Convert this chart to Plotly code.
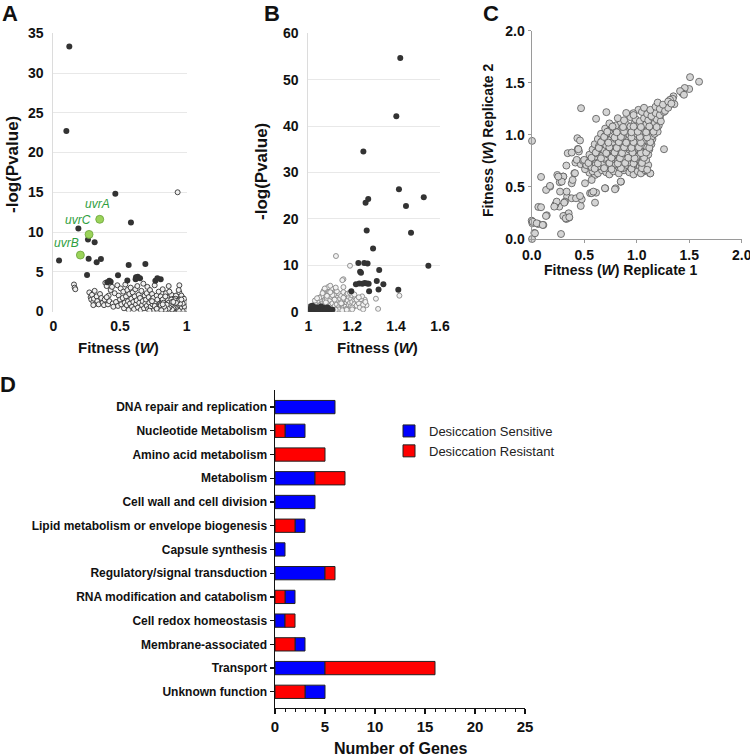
import plotly.graph_objects as go

W, H = 750, 756
FONT = "Arial, Liberation Sans, sans-serif"

# ---------------- Panel A data ----------------
a_sig = [(0.12,33.35),(0.098,22.7),(0.465,14.8),(0.582,11.2),(0.188,10.45),(0.26,9.07),(0.31,8.7),
         (0.043,6.43),(0.265,6.63),(0.357,6.6),(0.325,6.2),(0.565,5.84),(0.69,5.97),(0.253,4.58),
         (0.485,4.55),(0.42,3.87),(0.43,3.75),(0.405,3.67),(0.555,3.9),(0.62,4.3),(0.633,4.37),
         (0.65,4.17),(0.617,4.05),(0.765,3.87),(0.805,4.05),(0.78,4.17)]
a_uvr_names = ["uvrA", "uvrC", "uvrB"]
a_uvr_x = [0.348, 0.268, 0.203]
a_uvr_y = [11.6, 9.7, 7.1]
a_ns = [(0.932,15.0),(0.155,3.4),(0.16,3.0),(0.165,2.8),
 (0.27,2.4),(0.28,1.8),(0.285,1.5),(0.29,2.1),(0.30,1.2),(0.305,1.6),(0.31,2.6),(0.32,1.0),(0.325,1.9),
 (0.33,1.3),(0.34,0.9),(0.35,2.2),(0.36,1.7),(0.30,0.8),
 (0.37,1.1),(0.38,0.8),(0.385,1.5),(0.39,3.6),(0.40,3.2),(0.41,0.9),(0.415,2.0),(0.42,1.3),(0.43,2.7),
 (0.44,3.1),(0.445,1.0),(0.45,0.6),(0.40,1.8),
 (0.46,2.3),(0.47,1.2),(0.48,3.3),(0.485,0.7),(0.49,2.0),(0.50,1.5),(0.505,2.9),(0.51,0.9),(0.52,1.7),
 (0.525,2.5),(0.53,0.4),(0.535,1.1),(0.54,3.4),(0.545,1.9),(0.55,0.8),(0.555,2.7),(0.56,1.3),(0.565,0.2),
 (0.57,2.2),(0.575,1.0),
 (0.58,3.0),(0.585,1.6),(0.59,0.6),(0.595,2.4),(0.60,1.2),(0.605,0.3),(0.61,1.9),(0.615,2.8),(0.62,0.9),
 (0.625,1.4),(0.63,3.2),(0.635,0.5),(0.64,2.1),(0.645,1.1),(0.65,1.7),(0.655,0.2),(0.66,2.6),(0.665,0.8),
 (0.67,1.3),(0.675,3.5),(0.68,0.4),(0.685,2.0),(0.69,1.0),(0.695,1.5),(0.70,0.7),(0.70,2.3),
 (0.705,3.1),(0.71,0.3),(0.715,1.8),(0.72,1.1),(0.725,2.7),(0.73,0.6),(0.735,1.4),(0.74,2.2),(0.745,0.9),
 (0.75,1.7),(0.755,0.2),(0.76,3.3),(0.765,1.2),(0.77,0.5),(0.775,2.0),(0.78,1.5),(0.785,0.8),(0.79,2.5),
 (0.795,0.3),(0.80,1.0),(0.72,0.1),(0.76,0.7),(0.74,1.3),(0.78,0.1),
 (0.805,1.9),(0.81,0.5),(0.815,1.3),(0.82,2.8),(0.825,0.7),(0.83,1.6),(0.835,0.2),(0.84,1.1),(0.845,2.3),
 (0.85,0.4),(0.855,1.8),(0.86,0.9),(0.865,3.2),(0.87,0.3),(0.875,1.4),(0.88,0.6),(0.885,2.1),(0.89,1.0),
 (0.895,0.1),(0.90,1.6),(0.81,1.0),(0.82,0.3),(0.83,0.9),(0.84,0.5),(0.85,1.3),(0.86,0.2),(0.87,0.8),
 (0.88,1.2),(0.89,0.4),(0.90,0.7),(0.82,1.5),(0.84,1.9),(0.86,1.4),(0.88,0.2),(0.87,2.5),
 (0.905,0.3),(0.91,1.2),(0.915,0.6),(0.92,2.0),(0.925,0.2),(0.93,0.9),(0.935,1.5),(0.94,0.4),(0.945,3.3),
 (0.95,0.7),(0.955,1.1),(0.96,0.2),(0.965,1.8),(0.97,0.5),(0.975,0.9),(0.98,0.3),(0.985,1.3),(0.99,0.6),
 (0.995,0.1),(1.0,0.4),(0.91,0.1),(0.92,0.8),(0.93,0.4),(0.94,1.0),(0.95,0.3),(0.96,0.6),(0.97,1.4),
 (0.98,0.8),(0.99,0.2),(1.0,0.9),(0.915,1.6),(0.935,0.7),(0.955,0.5),(0.975,0.1),(0.995,0.7),(0.925,1.3),
 (0.945,2.4),(0.965,0.9),(0.985,0.5),(1.0,0.2),(0.96,2.0),(0.94,2.7),(0.98,1.1),(0.99,1.0),(1.0,0.6),
 (0.97,0.3),(0.95,1.5),
 (0.86,0.55),(0.87,0.15),(0.875,0.45),(0.88,0.95),(0.885,0.3),(0.89,0.65),(0.895,0.85),(0.90,0.15),
 (0.905,0.55),(0.91,0.85),(0.915,0.35),(0.92,0.05),(0.925,0.6),(0.93,0.15),(0.935,0.45),(0.94,0.75),
 (0.945,0.25),(0.95,0.05),(0.955,0.85),(0.96,0.4),(0.965,0.15),(0.97,0.7),(0.975,0.45),(0.98,0.05),
 (0.985,0.25),(0.99,0.45),(0.995,0.35),(1.0,0.05),(0.965,0.55),(0.945,0.55),(0.925,0.9),(0.905,1.0),
 (0.985,0.75),(0.995,0.55),(0.975,1.2),(0.955,1.3),(0.935,1.1),(0.915,0.25),(0.895,0.45),(0.875,0.75),
 (0.855,0.65),(0.835,0.45),(0.815,0.25),(0.795,0.6),(0.775,0.35),(0.845,0.05),(0.865,1.1),(0.885,1.5),
 (0.825,1.1),(0.805,0.8),
 (0.905,0.7),(0.915,0.95),(0.925,0.35),(0.935,0.25),(0.945,0.85),(0.955,0.2),(0.965,0.35),(0.975,0.6),
 (0.985,0.1),(0.995,0.25),(1.0,0.75),(0.99,0.85),(0.98,0.6),(0.97,0.05),(0.96,0.95),(0.95,0.45),
 (0.94,0.1),(0.93,0.65),(0.92,0.45),(0.91,0.5),(0.9,0.4),(0.89,0.25),(0.88,0.8),(0.87,0.5),(0.86,0.35),
 (0.85,0.85),(0.84,0.25),(0.83,0.6),(0.82,0.9),(0.81,0.15),(0.99,1.2),(0.97,1.0),(0.95,1.0),(0.93,1.3),
 (0.91,1.4),(0.89,1.2),(0.98,1.6),(0.96,1.5),(0.92,1.1),(0.90,1.2)]

# ---------------- Panel B data ----------------
b_sig = [(1.419,54.7),(1.401,42.1),(1.251,34.5),(1.413,26.4),(1.273,24.3),(1.261,23.5),(1.526,24.65),
 (1.445,22.8),(1.266,17.5),(1.468,17.0),(1.295,13.6),(1.547,9.9),(1.228,10.5),(1.255,10.5),(1.27,10.4),
 (1.236,8.6),(1.24,8.4),(1.323,9.0),(1.217,5.9),(1.232,6.1),(1.246,6.0),(1.257,6.2),(1.268,6.1),(1.275,6.0),
 (1.312,6.6),(1.342,5.9),(1.196,4.4),(1.32,4.8),(1.277,4.4),(1.41,4.75),
 (1.0,0.2),(1.005,0.5),(1.01,0.3),(1.012,0.8),(1.015,0.1),(1.02,0.6),(1.022,0.4),(1.025,1.0),(1.03,0.2),
 (1.032,0.7),(1.035,0.4),(1.04,0.1),(1.042,0.9),(1.045,0.5),(1.05,0.3),(1.052,0.7),(1.055,0.2),(1.06,0.5),
 (1.062,0.9),(1.065,0.3),(1.07,0.6),(1.072,0.15),(1.075,0.8),(1.08,0.4),(1.085,0.2),(1.09,0.6),(1.095,0.3),
 (1.1,0.5),(1.008,1.1),(1.018,1.3),(1.028,0.15),(1.038,0.65),(1.048,0.05),(1.058,1.1),(1.068,0.45),
 (1.078,0.25),(1.088,0.9),(1.105,0.2),(1.11,0.4)]
b_ns = [(1.126,12.0),(1.19,9.9),(1.415,3.45),(1.308,2.8),(1.257,2.6),(1.265,1.4),(1.318,0.6),(1.16,7.0),(1.16,5.3),
 (1.0,0.6),(1.01,1.0),(1.015,0.4),(1.02,1.3),(1.025,0.8),(1.03,1.6),(1.035,0.5),(1.04,1.9),(1.045,1.2),
 (1.05,2.2),(1.05,0.9),(1.055,1.5),(1.06,2.6),(1.06,0.7),(1.065,1.8),(1.07,3.0),(1.07,1.1),(1.075,2.3),
 (1.08,3.4),(1.08,0.6),(1.085,1.4),(1.085,2.8),(1.09,3.8),(1.09,1.9),(1.095,0.9),(1.095,4.3),(1.10,2.5),
 (1.10,1.3),(1.105,3.2),(1.105,5.0),(1.11,0.8),(1.11,1.8),(1.115,4.0),(1.115,2.9),(1.12,1.2),(1.12,3.6),
 (1.125,2.2),(1.125,4.6),(1.13,0.7),(1.13,1.6),(1.135,3.1),(1.135,2.5),(1.14,1.0),(1.14,3.9),(1.145,1.9),
 (1.145,2.8),(1.15,0.6),(1.15,3.4),(1.155,1.4),(1.155,2.2),(1.16,4.2),(1.16,0.9),(1.165,2.6),(1.165,1.7),
 (1.17,3.0),(1.17,1.1),(1.175,2.0),(1.175,3.7),(1.18,0.8),(1.18,2.4),(1.185,1.5),(1.185,3.2),(1.19,1.9),
 (1.19,0.6),(1.195,2.8),(1.195,1.2),(1.20,3.5),(1.20,2.1),(1.205,1.0),(1.21,2.6),(1.21,1.6),(1.215,3.0),
 (1.22,1.3),(1.225,2.3),(1.23,1.8),(1.235,0.9),(1.24,2.7),(1.245,3.3),(1.25,1.5),(1.26,2.1),(1.03,2.4),
 (1.04,0.2),(1.06,3.3),(1.07,4.5),(1.08,4.9),(1.09,5.3),(1.10,5.6),(1.08,2.0),(1.09,0.4),(1.06,1.3),
 (1.05,3.0),(1.04,2.9),(1.11,3.6),(1.12,2.6),(1.13,4.4),(1.14,0.5),(1.15,1.8),(1.16,3.0),(1.17,0.5),
 (1.18,3.9),(1.19,4.1),(1.20,0.9),(1.21,3.7),(1.22,2.6),(1.23,3.1),(1.02,0.2),(1.075,0.3),(1.1,0.3),
 (1.125,0.4),(1.155,0.3),(1.175,0.4),(1.2,0.5),(1.25,0.5),(1.155,6.8),(1.075,5.0),(1.1,4.2),(1.125,5.2),
 (1.085,3.4),(1.065,4.0)]

# ---------------- Panel C data ----------------
c_sparse = [(1.508,1.554),(1.594,1.51),(1.50,1.44),(1.457,1.45),(1.435,1.40),(1.413,1.42),(1.45,1.385),
 (1.35,1.37),(1.343,1.346),(1.359,1.295),(1.317,1.337),(0.47,1.256),(0.711,1.218),(0.613,1.154),(1.016,1.24),
 (0.968,1.208),(1.26,0.862),(0.003,0.942),(0.089,0.596),(0.175,0.503),(0.137,0.471),(0.244,0.615),(0.30,0.60),
 (0.267,0.545),(0.416,0.734),(0.467,0.718),(0.435,0.968),(0.46,0.946),(0.343,0.824),(0.381,0.83),(0.44,0.865),
 (0.33,0.705),(0.381,0.535),(0.406,0.631),(0.517,0.702),(0.556,0.71),(0.619,0.663),(0.70,0.487),(0.80,0.487),
 (0.85,0.55),(0.603,0.349),(0.556,0.44),(0.613,0.445),(0.467,0.317),(0.476,0.381),(0.337,0.407),(0.317,0.359),
 (0.263,0.311),(0.225,0.33),(0.314,0.221),(0.33,0.192),(0.352,0.247),(0.356,0.205),(0.063,0.308),(0.089,0.305),
 (0.0,0.176),(0.006,0.151),(0.063,0.144),(0.111,0.135),(0.025,0.058),(0.003,0.0),(0.279,0.048),(0.143,0.228),
 (0.45,0.84),(1.127,0.63),(1.063,0.647),(1.089,0.727),(1.159,1.05),(1.206,1.096),(1.222,1.176),(1.254,1.24),
 (1.286,1.272),(0.444,0.862),(0.412,0.632),(0.39,0.567),(0.301,0.599),(0.286,0.551),(0.253,0.599),
 (0.174,0.51),(0.27,0.455),(0.333,0.455),(0.381,0.391),(0.422,0.391),(0.46,0.413),(0.571,0.44),(0.587,0.455),
 (0.31,0.349),(0.238,0.359),(0.215,0.311),(0.136,0.221),(0.301,0.221),(0.324,0.199),(0.358,0.209),
 (0.01,0.166),(0.048,0.151),(0.105,0.135),(0.031,0.055),(0.549,0.637),(0.508,0.67),(0.555,0.695),
 (0.603,0.615),(0.508,0.535),(0.571,0.567),(0.698,0.487),(0.793,0.477),(0.848,0.551),(0.429,0.76),(0.491,0.75)]
c_core = [
 (0.58,0.65),(0.63,0.63),(0.67,0.66),(0.71,0.64),(0.74,0.62),(0.78,0.65),(0.83,0.63),(0.88,0.66),(0.93,0.64),
 (0.97,0.62),(1.01,0.65),(1.04,0.63),(1.08,0.66),(1.13,0.63),
 (0.52,0.71),(0.57,0.69),(0.61,0.72),(0.65,0.70),(0.69,0.68),(0.72,0.71),(0.76,0.69),(0.80,0.72),(0.84,0.70),
 (0.87,0.68),(0.91,0.71),(0.95,0.69),(0.99,0.72),(1.03,0.70),(1.07,0.68),(1.11,0.71),
 (0.50,0.76),(0.55,0.74),(0.60,0.77),(0.64,0.75),(0.68,0.73),(0.71,0.76),(0.74,0.74),(0.78,0.77),(0.82,0.75),
 (0.86,0.73),(0.90,0.76),(0.93,0.74),(0.96,0.77),(1.00,0.75),(1.04,0.73),(1.09,0.76),
 (0.55,0.81),(0.60,0.79),(0.63,0.82),(0.67,0.80),(0.70,0.78),(0.73,0.81),(0.77,0.79),(0.80,0.82),(0.84,0.80),
 (0.88,0.78),(0.91,0.81),(0.95,0.79),(0.98,0.82),(1.02,0.80),(1.06,0.78),(1.11,0.81),
 (0.58,0.86),(0.62,0.84),(0.66,0.87),(0.69,0.85),(0.72,0.83),(0.76,0.86),(0.79,0.84),(0.83,0.87),(0.86,0.85),
 (0.90,0.83),(0.93,0.86),(0.97,0.84),(1.00,0.87),(1.04,0.85),(1.08,0.83),(1.12,0.86),
 (0.60,0.91),(0.64,0.89),(0.68,0.92),(0.71,0.90),(0.75,0.88),(0.78,0.91),(0.81,0.89),(0.85,0.92),(0.88,0.90),
 (0.92,0.88),(0.95,0.91),(0.99,0.89),(1.02,0.92),(1.06,0.90),(1.10,0.88),(1.14,0.91),
 (0.63,0.96),(0.67,0.94),(0.70,0.97),(0.74,0.95),(0.77,0.93),(0.80,0.96),(0.84,0.94),(0.87,0.97),(0.91,0.95),
 (0.94,0.93),(0.98,0.96),(1.01,0.94),(1.05,0.97),(1.08,0.95),(1.12,0.93),(1.15,0.96),
 (0.66,1.01),(0.70,0.99),(0.73,1.02),(0.77,1.00),(0.80,0.98),(0.83,1.01),(0.87,0.99),(0.90,1.02),(0.93,1.00),
 (0.97,0.98),(1.00,1.01),(1.04,0.99),(1.07,1.02),(1.11,1.00),(1.14,0.98),(1.17,1.01),
 (0.70,1.06),(0.74,1.04),(0.78,1.07),(0.82,1.05),(0.85,1.03),(0.89,1.06),(0.92,1.04),(0.96,1.07),(0.99,1.05),
 (1.03,1.03),(1.06,1.06),(1.10,1.04),(1.13,1.07),(1.17,1.05),(1.20,1.03),
 (0.74,1.11),(0.80,1.09),(0.85,1.12),(0.90,1.10),(0.94,1.08),(0.98,1.11),(1.02,1.09),(1.05,1.12),(1.09,1.10),
 (1.13,1.08),(1.17,1.11),(1.21,1.09),
 (0.82,1.16),(0.88,1.14),(0.94,1.17),(0.99,1.15),(1.03,1.13),(1.07,1.16),(1.11,1.14),(1.15,1.17),(1.19,1.15),
 (1.23,1.13),
 (0.90,1.21),(0.97,1.19),(1.05,1.22),(1.10,1.20),(1.14,1.18),(1.18,1.21),(1.22,1.19),(1.26,1.22),
 (1.07,1.26),(1.13,1.24),(1.18,1.27),(1.22,1.25),(1.27,1.23),(1.30,1.26),
 (1.20,1.31),(1.25,1.29),(1.30,1.32),(1.33,1.30),
 (0.60,0.675),(0.69,0.68),(0.76,0.67),(0.85,0.68),(0.95,0.675),(1.05,0.68),(1.10,0.665),
 (0.54,0.73),(0.63,0.725),(0.74,0.73),(0.82,0.725),(0.89,0.73),(0.97,0.725),(1.05,0.73),
 (0.57,0.78),(0.66,0.775),(0.76,0.78),(0.84,0.775),(0.92,0.78),(0.98,0.775),(1.07,0.78),
 (0.61,0.83),(0.71,0.825),(0.79,0.83),(0.86,0.825),(0.96,0.83),(1.04,0.825),(1.09,0.83),
 (0.64,0.875),(0.74,0.88),(0.81,0.875),(0.88,0.88),(0.95,0.875),(1.02,0.88),(1.12,0.875),
 (0.66,0.93),(0.73,0.925),(0.83,0.93),(0.90,0.925),(0.97,0.93),(1.04,0.925),(1.13,0.93),
 (0.69,0.98),(0.79,0.975),(0.85,0.98),(0.95,0.975),(1.03,0.98),(1.10,0.975),
 (0.72,1.03),(0.81,1.025),(0.88,1.03),(0.95,1.025),(1.01,1.03),(1.09,1.025),(1.16,1.03),
 (0.77,1.08),(0.87,1.075),(0.97,1.08),(1.04,1.075),(1.12,1.08),(1.19,1.075)]

# ---------------- Panel D data ----------------
d_categories = ["DNA repair and replication", "Nucleotide Metabolism", "Amino acid metabolism", "Metabolism",
                "Cell wall and cell division", "Lipid metabolism or envelope biogenesis", "Capsule synthesis",
                "Regulatory/signal transduction", "RNA modification and catabolism", "Cell redox homeostasis",
                "Membrane-associated", "Transport", "Unknown function"]
d_sensitive = [6, 2, 0, 4, 4, 1, 1, 5, 1, 1, 1, 5, 2]
d_resistant = [0, 1, 5, 3, 0, 2, 0, 1, 1, 1, 2, 11, 3]
d_first = ["S", "R", "R", "S", "S", "R", "S", "S", "R", "S", "R", "S", "R"]  # segment drawn from zero
d_series = ["Desiccation Sensitive", "Desiccation Resistant"]
d_colors = ["#0000ff", "#ff0000"]

def dom_x(a, b):
    return [a / W, b / W]

def dom_y(top, bottom):
    return [1 - bottom / H, 1 - top / H]

fig = go.Figure()

dark = dict(color="#333333", size=6, line=dict(width=0))
open_a = dict(color="#f0f0f0", size=5, line=dict(color="#333333", width=0.9))
open_b = dict(color="#f2f2f2", size=5, line=dict(color="#888888", width=0.9))

# Panel A
fig.add_trace(go.Scatter(x=[p[0] for p in a_ns], y=[p[1] for p in a_ns], mode="markers",
                         marker=open_a, xaxis="x", yaxis="y", showlegend=False))
fig.add_trace(go.Scatter(x=[p[0] for p in a_sig], y=[p[1] for p in a_sig], mode="markers",
                         marker=dark, xaxis="x", yaxis="y", showlegend=False))
fig.add_trace(go.Scatter(x=a_uvr_x, y=a_uvr_y, mode="markers",
                         marker=dict(color="#9bd35a", size=8, line=dict(color="#6aa33a", width=0.8)),
                         xaxis="x", yaxis="y", showlegend=False))
# Panel B
fig.add_trace(go.Scatter(x=[p[0] for p in b_ns], y=[p[1] for p in b_ns], mode="markers",
                         marker=open_b, xaxis="x2", yaxis="y2", showlegend=False))
fig.add_trace(go.Scatter(x=[p[0] for p in b_sig], y=[p[1] for p in b_sig], mode="markers",
                         marker=dark, xaxis="x2", yaxis="y2", showlegend=False))
# Panel C
c_all = c_sparse + c_core
fig.add_trace(go.Scatter(x=[p[0] for p in c_all], y=[p[1] for p in c_all], mode="markers",
                         marker=dict(color="#d4d4d4", size=7, line=dict(color="#555555", width=0.8)),
                         xaxis="x3", yaxis="y3", showlegend=False, cliponaxis=False))

# Panel D stacked bars (order of segments varies per category)
sx, sy, sb, rx, ry, rb = [], [], [], [], [], []
for cat, s, r, f in zip(d_categories, d_sensitive, d_resistant, d_first):
    if s:
        sx.append(s); sy.append(cat); sb.append(0 if f == "S" else r)
    if r:
        rx.append(r); ry.append(cat); rb.append(0 if f == "R" else s)
fig.add_trace(go.Bar(x=sx, y=sy, base=sb, orientation="h", name=d_series[0], width=0.56,
                     marker=dict(color=d_colors[0], line=dict(color="#222222", width=1)),
                     xaxis="x4", yaxis="y4"))
fig.add_trace(go.Bar(x=rx, y=ry, base=rb, orientation="h", name=d_series[1], width=0.56,
                     marker=dict(color=d_colors[1], line=dict(color="#222222", width=1)),
                     xaxis="x4", yaxis="y4"))

bold14 = dict(family=FONT, size=14, color="#111111", weight="bold")
grid = "#e8e8e8"
common = dict(automargin=False, fixedrange=True, ticklabeloverflow="allow")

fig.update_layout(
    template="none",
    width=W, height=H, margin=dict(l=0, r=0, t=0, b=0, autoexpand=False),
    paper_bgcolor="white", plot_bgcolor="white", barmode="overlay",
    font=dict(family=FONT, color="#111111"),
    xaxis=dict(domain=dom_x(53.3, 186.7), range=[0, 1], tickvals=[0, 0.5, 1], ticktext=["0", "0.5", "1"],
               showgrid=False, zeroline=False, showline=False, ticks="", tickfont=bold14,
               ticklabelstandoff=4, anchor="y", **common),
    yaxis=dict(domain=dom_y(33.3, 311.5), range=[0, 35], dtick=5, showgrid=True, gridcolor=grid,
               zeroline=False, showline=True, linecolor="#dcdcdc", ticks="", tickfont=bold14,
               ticklabelstandoff=6, anchor="x", **common),
    xaxis2=dict(domain=dom_x(308.3, 440), range=[1, 1.6], tickvals=[1, 1.2, 1.4, 1.6],
                ticktext=["1", "1.2", "1.4", "1.6"], showgrid=False, zeroline=False, showline=False,
                ticks="", tickfont=bold14, ticklabelstandoff=4, anchor="y2", **common),
    yaxis2=dict(domain=dom_y(33.3, 311.7), range=[0, 60], dtick=10, showgrid=True, gridcolor=grid,
                zeroline=False, showline=True, linecolor="#dcdcdc", ticks="", tickfont=bold14,
                ticklabelstandoff=6, anchor="x2", **common),
    xaxis3=dict(domain=dom_x(531.7, 741.7), range=[0, 2], dtick=0.5, tickformat=".1f", showgrid=False,
                zeroline=False, showline=True, linecolor="#9a9a9a", linewidth=1.2, ticks="outside",
                ticklen=3, tickcolor="#9a9a9a", tickfont=bold14, anchor="y3", **common),
    yaxis3=dict(domain=dom_y(30.7, 239), range=[0, 2], dtick=0.5, tickformat=".1f", showgrid=False,
                zeroline=False, showline=True, linecolor="#9a9a9a", linewidth=1.2, ticks="outside",
                ticklen=3, tickcolor="#9a9a9a", tickfont=bold14, anchor="x3", **common),
    xaxis4=dict(domain=dom_x(275, 525), range=[0, 25], dtick=5, showgrid=False, zeroline=False,
                showline=True, linecolor="#111111", linewidth=1.5, ticks="outside", ticklen=5,
                tickwidth=1.5, tickcolor="#111111",
                minor=dict(dtick=1, ticks="outside", ticklen=3, tickcolor="#111111", tickwidth=1),
                tickfont=dict(family=FONT, size=15, color="#111111", weight="bold"), anchor="y4", **common),
    yaxis4=dict(domain=dom_y(390, 707.7), type="category", categoryorder="array",
                categoryarray=d_categories, range=[12.67, -0.72], showgrid=False, zeroline=False,
                showline=True, linecolor="#111111", linewidth=1.5, ticks="outside", ticklen=4,
                tickwidth=1.2, tickcolor="#111111",
                tickfont=dict(family=FONT, size=12, color="#111111", weight="bold"), anchor="x4", **common),
    legend=dict(x=389 / W, y=1 - 416 / H, xanchor="left", yanchor="top", bgcolor="rgba(0,0,0,0)",
                font=dict(family=FONT, size=13, color="#222222"), itemwidth=30, tracegroupgap=0),
)

def ann(text, x, y, size, angle=0, color="#111111", italic=False, weight="bold", xanchor="center"):
    fig.add_annotation(text=text, x=x / W, y=1 - y / H, xref="paper", yref="paper", showarrow=False,
                       textangle=angle, xanchor=xanchor, yanchor="middle",
                       font=dict(family=FONT, size=size, color=color, weight=weight,
                                 style="italic" if italic else "normal"))

# Panel letters
ann("A", 10, 14, 22)
ann("B", 272, 14, 22)
ann("C", 491, 14, 22)
ann("D", 8, 384, 22)
# Axis titles
ann("-log(Pvalue)", 12, 165, 17, angle=-90)
ann("-log(Pvalue)", 262, 172, 17, angle=-90)
ann("Fitness (<i>W</i>)", 118.7, 347, 15)
ann("Fitness (<i>W</i>)", 377.7, 347, 15)
ann("Fitness (<i>W</i>) Replicate 1", 620, 270, 14)
ann("Fitness (<i>W</i>) Replicate 2", 488, 140, 14, angle=-90)
ann("Number of Genes", 400, 748, 16)
# uvr gene labels
for name, xx, yy in zip(a_uvr_names, [97.5, 78, 66.5], [204, 220, 243]):
    ann(name, xx, yy, 12, color="#2e9e3e", italic=True, weight="normal")

fig.write_html("out.html", config={"displayModeBar": False, "staticPlot": True},
               post_script="document.body.style.margin='0';document.body.style.overflow='hidden';")
